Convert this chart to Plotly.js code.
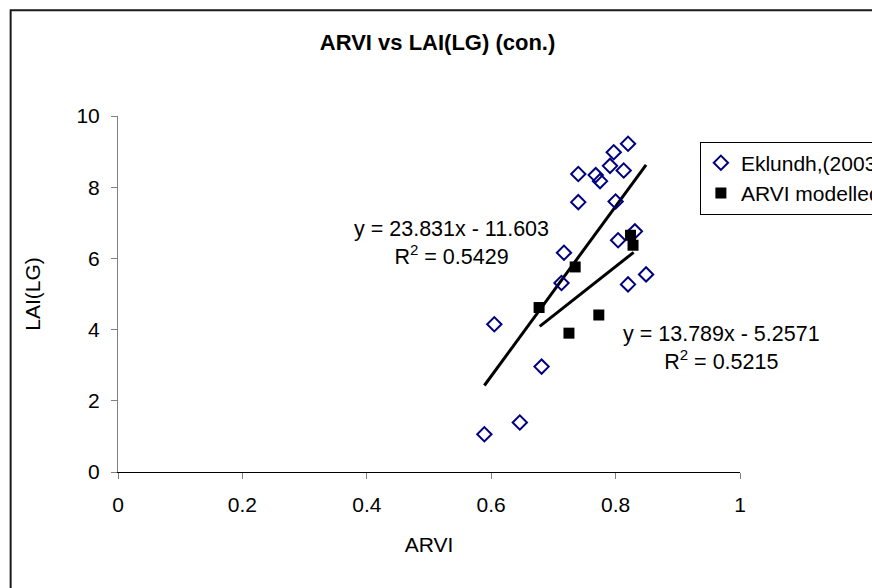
<!DOCTYPE html>
<html>
<head>
<meta charset="utf-8">
<script src="https://cdn.plot.ly/plotly-3.0.1.min.js"></script>
<style>html,body{margin:0;padding:0;background:#fff;}#chart{width:872px;height:588px;}</style>
</head>
<body>
<div id="chart"></div>
<script>
// Eklundh,(2003) observations
var eklundhX = [0.589, 0.646, 0.681, 0.605, 0.713, 0.820, 0.797, 0.791, 0.813, 0.740, 0.768, 0.775, 0.740, 0.800, 0.831, 0.804, 0.717, 0.849, 0.820];
var eklundhY = [1.06, 1.39, 2.96, 4.15, 5.31, 9.22, 8.98, 8.60, 8.47, 8.37, 8.34, 8.17, 7.58, 7.60, 6.76, 6.51, 6.16, 5.55, 5.27];
// ARVI modelled
var modelX = [0.677, 0.725, 0.773, 0.735, 0.824, 0.828];
var modelY = [4.62, 3.90, 4.41, 5.76, 6.65, 6.37];
// Trendline end points
var trend1X = [0.589, 0.849];
var trend1Y = [2.43, 8.63];
var trend2X = [0.678, 0.829];
var trend2Y = [4.09, 6.17];
var xTicks = [0, 0.2, 0.4, 0.6, 0.8, 1];
var xTickText = ['0', '0.2', '0.4', '0.6', '0.8', '1'];
var yTicks = [0, 2, 4, 6, 8, 10];
var eq1 = 'y = 23.831x - 11.603<br>R<sup>2</sup> = 0.5429';
var eq2 = 'y = 13.789x - 5.2571<br>R<sup>2</sup> = 0.5215';

var FONT = '"Liberation Sans", Arial, sans-serif';

var traces = [
  {x: trend1X, y: trend1Y, mode: 'lines', line: {color: '#000', width: 3}, showlegend: false, hoverinfo: 'skip'},
  {x: trend2X, y: trend2Y, mode: 'lines', line: {color: '#000', width: 3}, showlegend: false, hoverinfo: 'skip'},
  {x: eklundhX, y: eklundhY, mode: 'markers', name: 'Eklundh,(2003)',
   marker: {symbol: 'diamond-open', size: 11, color: '#000080', line: {color: '#000080', width: 2}}},
  {x: modelX, y: modelY, mode: 'markers', name: 'ARVI modelled',
   marker: {symbol: 'square', size: 11, color: '#000', line: {color: '#000', width: 0}}}
];

var layout = {
  width: 872, height: 588,
  margin: {l: 117.5, r: 131.7, t: 115.7, b: 116.3, autoexpand: false},
  paper_bgcolor: '#fff', plot_bgcolor: '#fff',
  font: {family: FONT, size: 21, color: '#000'},
  title: {text: '<b>ARVI vs LAI(LG) (con.)</b>', font: {family: FONT, size: 22, color: '#000'},
          x: 0.5137, xref: 'paper', xanchor: 'center', y: 0.928, yref: 'container', yanchor: 'middle'},
  xaxis: {
    range: [0, 1], tickvals: xTicks, ticktext: xTickText, showgrid: false, zeroline: false,
    showline: true, linecolor: '#000', linewidth: 1,
    ticks: 'outside', ticklen: 6, tickcolor: '#808080', tickwidth: 1,
    ticklabelstandoff: 8,
    tickfont: {family: FONT, size: 21, color: '#000'},
    title: {text: 'ARVI', font: {family: FONT, size: 21, color: '#000'}, standoff: 22}
  },
  yaxis: {
    range: [0, 10], tickvals: yTicks, showgrid: false, zeroline: false,
    showline: true, linecolor: '#808080', linewidth: 1,
    ticks: 'outside', ticklen: 6, tickcolor: '#808080', tickwidth: 1,
    ticklabelstandoff: 7,
    tickfont: {family: FONT, size: 21, color: '#000'},
    title: {text: 'LAI(LG)', font: {family: FONT, size: 21, color: '#000'}, standoff: 30}
  },
  legend: {
    x: 0.9355, xanchor: 'left', y: 0.928, yanchor: 'top',
    bordercolor: '#000', borderwidth: 1, bgcolor: '#fff',
    font: {family: FONT, size: 21, color: '#000'},
    tracegroupgap: 0, itemwidth: 30
  },
  annotations: [
    {text: eq1, xref: 'paper', yref: 'paper', x: 0.536, y: 0.642, xanchor: 'center', yanchor: 'middle',
     showarrow: false, align: 'center', font: {family: FONT, size: 21.5, color: '#000'}},
    {text: eq2, xref: 'paper', yref: 'paper', x: 0.970, y: 0.347, xanchor: 'center', yanchor: 'middle',
     showarrow: false, align: 'center', font: {family: FONT, size: 21.5, color: '#000'}}
  ],
  shapes: [
    {type: 'rect', xref: 'paper', yref: 'paper', x0: -0.1726, x1: 1.6, y0: -0.6, y1: 1.297,
     line: {color: '#1a1a1a', width: 2}, fillcolor: 'rgba(0,0,0,0)', layer: 'below'}
  ]
};

Plotly.newPlot('chart', traces, layout, {displayModeBar: false, staticPlot: true});
</script>
</body>
</html>
